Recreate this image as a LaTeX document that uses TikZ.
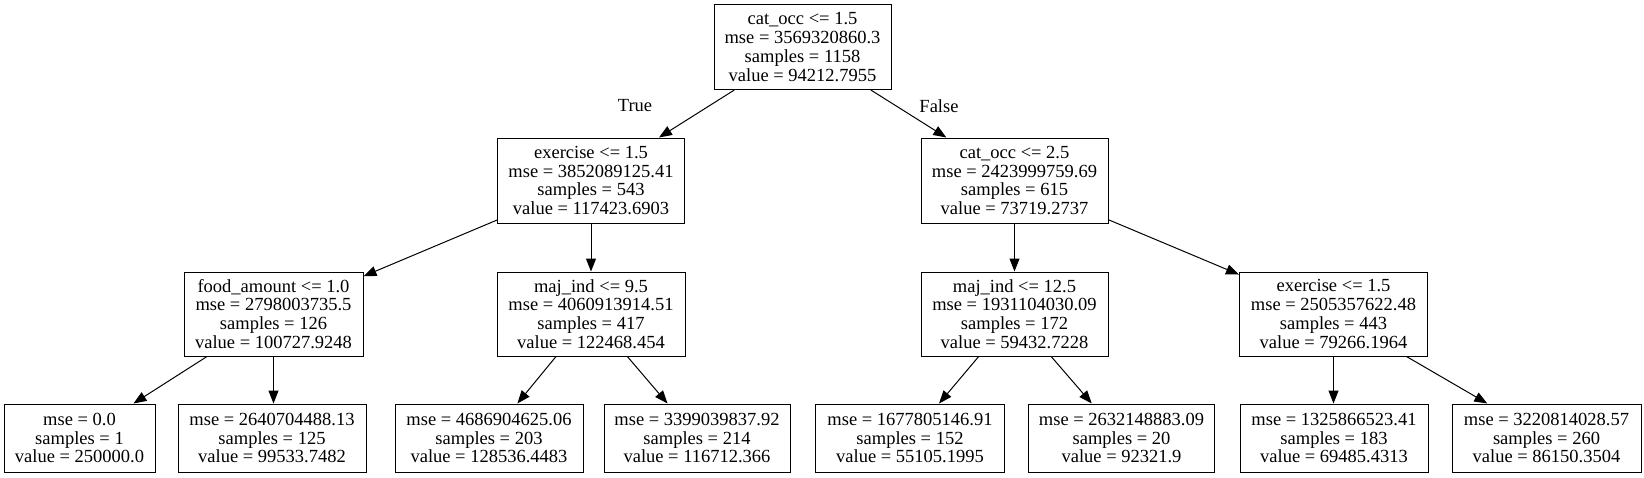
\documentclass[tikz,border=0pt]{standalone}
\usepackage{fontspec}
\setmainfont{Liberation Serif}
\usetikzlibrary{arrows.meta}
\begin{document}
\begin{tikzpicture}[x=1pt,y=-1pt,
  tnode/.style={draw,line width=1pt,rectangle,inner sep=0pt,align=center,
    font=\fontsize{18.5}{18.8}\selectfont},
  inner/.style={tnode,minimum height=85pt},
  leaf/.style={tnode,minimum height=68pt},
  edge/.style={line width=1pt,-{Triangle[length=13pt,width=10pt]}},
  elabel/.style={font=\fontsize{18.5}{18.8}\selectfont}]
\useasboundingbox (0,0) rectangle (1644,477);
\node[inner,minimum width=177pt] (root) at (802.5,47) {cat\_occ <= 1.5\\mse = 3569320860.3\\samples = 1158\\value = 94212.7955};
\node[inner,minimum width=187pt] (ex1) at (591,180.5) {exercise <= 1.5\\mse = 3852089125.41\\samples = 543\\value = 117423.6903};
\node[inner,minimum width=187pt] (co2) at (1014.5,180.5) {cat\_occ <= 2.5\\mse = 2423999759.69\\samples = 615\\value = 73719.2737};
\node[inner,minimum width=179pt,minimum height=84pt] (food) at (273.5,314) {food\_amount <= 1.0\\mse = 2798003735.5\\samples = 126\\value = 100727.9248};
\node[inner,minimum width=188pt,minimum height=84pt] (maja) at (591,314) {maj\_ind <= 9.5\\mse = 4060913914.51\\samples = 417\\value = 122468.454};
\node[inner,minimum width=187pt,minimum height=84pt] (majb) at (1014.5,314) {maj\_ind <= 12.5\\mse = 1931104030.09\\samples = 172\\value = 59432.7228};
\node[inner,minimum width=188pt,minimum height=84pt] (ex2) at (1333.5,314) {exercise <= 1.5\\mse = 2505357622.48\\samples = 443\\value = 79266.1964};
\node[leaf,minimum width=151pt] (l1) at (79.5,438) {mse = 0.0\\samples = 1\\value = 250000.0};
\node[leaf,minimum width=188pt] (l2) at (272,438) {mse = 2640704488.13\\samples = 125\\value = 99533.7482};
\node[leaf,minimum width=188pt] (l3) at (489,438) {mse = 4686904625.06\\samples = 203\\value = 128536.4483};
\node[leaf,minimum width=186pt] (l4) at (697,438) {mse = 3399039837.92\\samples = 214\\value = 116712.366};
\node[leaf,minimum width=189pt] (l5) at (910,438) {mse = 1677805146.91\\samples = 152\\value = 55105.1995};
\node[leaf,minimum width=186pt] (l6) at (1121.5,438) {mse = 2632148883.09\\samples = 20\\value = 92321.9};
\node[leaf,minimum width=188pt] (l7) at (1334,438) {mse = 1325866523.41\\samples = 183\\value = 69485.4313};
\node[leaf,minimum width=189pt] (l8) at (1546.5,438) {mse = 3220814028.57\\samples = 260\\value = 86150.3504};
\draw[edge] (root) -- (ex1);
\draw[edge] (root) -- (co2);
\node[elabel] (tl) at (635,106) {True};
\node[elabel] (fl) at (939,106) {False};
\draw[edge] (ex1) -- (food);
\draw[edge] (ex1.south) -- (maja.north);
\draw[edge] (co2.south) -- (majb.north);
\draw[edge] (co2) -- (ex2);
\draw[edge] (food) -- (l1);
\draw[edge] (food.south) -- (food.south |- l2.north);
\draw[edge] (maja) -- (l3);
\draw[edge] (maja) -- (l4);
\draw[edge] (majb) -- (l5);
\draw[edge] (majb) -- (l6);
\draw[edge] (ex2.south) -- (ex2.south |- l7.north);
\draw[edge] (ex2) -- (l8);
\end{tikzpicture}
\end{document}
